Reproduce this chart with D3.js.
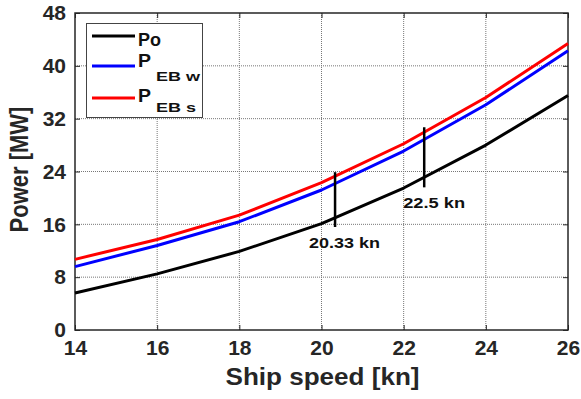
<!DOCTYPE html>
<html>
<head>
<meta charset="utf-8">
<script src="https://cdn.jsdelivr.net/npm/d3@7"></script>
<style>
  html, body { margin: 0; padding: 0; background: #fff; }
  svg { display: block; font-family: "Liberation Sans", Arial, sans-serif; font-weight: bold; }
</style>
</head>
<body>
<svg id="chart" width="581" height="399"></svg>
<script>
// Ship speed [kn]
const speeds = [14, 16, 18, 20, 22, 24, 26];
// Power [MW]
const po   = [5.6, 8.5, 11.9, 16.1, 21.5, 28.0, 35.5];
const pebW = [9.6, 12.8, 16.4, 21.2, 27.1, 34.1, 42.3];
const pebS = [10.7, 13.7, 17.4, 22.3, 28.2, 35.2, 43.4];

// Operating-point markers: speed and vertical extent
const markerSpeeds = [20.33, 22.5];
const markerLow    = [15.6, 21.6];
const markerHigh   = [23.9, 30.7];
const markerLabels = ["20.33 kn", "22.5 kn"];

const xTicks = [14, 16, 18, 20, 22, 24, 26];
const yTicks = [0, 8, 16, 24, 32, 40, 48];

const series = [
  { name: "Po",  values: po,   color: "#000000" },
  { name: "EB w", values: pebW, color: "#0000ff" },
  { name: "EB s", values: pebS, color: "#ff0000" }
];

const svg = d3.select("#chart");
const L = 75, R = 568, T = 13, B = 330;

const x = d3.scaleLinear().domain([14, 26]).range([L, R]);
const y = d3.scaleLinear().domain([0, 48]).range([B, T]);

// grid
const grid = svg.append("g");
grid.selectAll(".gx").data(xTicks.slice(1, -1)).join("line")
  .attr("x1", d => x(d)).attr("x2", d => x(d)).attr("y1", T).attr("y2", B)
  .attr("stroke", "#777").attr("stroke-width", 1).attr("stroke-dasharray", "1,1");
grid.selectAll(".gy").data(yTicks.slice(1, -1)).join("line")
  .attr("x1", L).attr("x2", R).attr("y1", d => y(d)).attr("y2", d => y(d))
  .attr("stroke", "#777").attr("stroke-width", 1).attr("stroke-dasharray", "1,1");

// axes (ticks pointing inward on all four sides)
const tickColor = "#262626";
const axB = svg.append("g").attr("transform", `translate(0,${B})`)
  .call(d3.axisBottom(x).tickValues(xTicks).tickSize(-5).tickPadding(10));
const axL = svg.append("g").attr("transform", `translate(${L},0)`)
  .call(d3.axisLeft(y).tickValues(yTicks).tickSize(-5).tickPadding(9));
const axT = svg.append("g").attr("transform", `translate(0,${T})`)
  .call(d3.axisTop(x).tickValues(xTicks).tickSize(-5).tickFormat(""));
const axR = svg.append("g").attr("transform", `translate(${R},0)`)
  .call(d3.axisRight(y).tickValues(yTicks).tickSize(-5).tickFormat(""));
[axB, axL, axT, axR].forEach(a => {
  a.select(".domain").remove();
  a.selectAll(".tick line").attr("stroke", tickColor).attr("stroke-width", 1);
  a.selectAll(".tick text").attr("fill", "#262626")
    .style("font-family", "'Liberation Sans', Arial, sans-serif")
    .style("font-weight", "bold").style("font-size", "21px");
});
axB.selectAll(".tick text").attr("dy", "0.71em");

// frame
svg.append("rect").attr("x", L).attr("y", T).attr("width", R - L).attr("height", B - T)
  .attr("fill", "none").attr("stroke", tickColor).attr("stroke-width", 1.5);

// curves
const line = d3.line().x((d, i) => x(speeds[i])).y(d => y(d));
svg.append("g").selectAll("path").data(series).join("path")
  .attr("d", d => line(d.values))
  .attr("fill", "none").attr("stroke", d => d.color).attr("stroke-width", 3)
  .attr("stroke-linejoin", "round");

// markers
svg.append("g").selectAll("line").data(markerSpeeds).join("line")
  .attr("x1", d => x(d)).attr("x2", d => x(d))
  .attr("y1", (d, i) => y(markerLow[i])).attr("y2", (d, i) => y(markerHigh[i]))
  .attr("stroke", "#000").attr("stroke-width", 2.5);

svg.append("text").attr("x", x(markerSpeeds[0]) - 26).attr("y", y(markerLow[0]) + 21)
  .attr("font-size", 15).attr("fill", "#111")
  .attr("textLength", 71).attr("lengthAdjust", "spacingAndGlyphs").text(markerLabels[0]);
svg.append("text").attr("x", x(markerSpeeds[1]) - 21).attr("y", y(markerLow[1]) + 21)
  .attr("font-size", 15).attr("fill", "#111")
  .attr("textLength", 62).attr("lengthAdjust", "spacingAndGlyphs").text(markerLabels[1]);

// legend
const lg = svg.append("g");
lg.append("rect").attr("x", 86.5).attr("y", 23.5).attr("width", 116).attr("height", 94)
  .attr("fill", "#fff").attr("stroke", "#444").attr("stroke-width", 1);
const rowY = [36, 66, 98];
lg.selectAll("line").data(series).join("line")
  .attr("x1", 92).attr("x2", 135)
  .attr("y1", (d, i) => rowY[i]).attr("y2", (d, i) => rowY[i])
  .attr("stroke", d => d.color).attr("stroke-width", 3);
lg.append("text").attr("x", 138).attr("y", 46).attr("font-size", 19).attr("fill", "#111")
  .attr("textLength", 23).attr("lengthAdjust", "spacingAndGlyphs").text(series[0].name);
const pBase = [null, 67, 101.5];
const subBase = [null, 81, 111.5];
const subLen = [null, 44, 40];
[1, 2].forEach(i => {
  lg.append("text").attr("x", 138).attr("y", pBase[i]).attr("font-size", 19).attr("fill", "#111")
    .attr("textLength", 13).attr("lengthAdjust", "spacingAndGlyphs").text("P");
  lg.append("text").attr("x", 156).attr("y", subBase[i]).attr("font-size", 13.5).attr("fill", "#111")
    .attr("textLength", subLen[i]).attr("lengthAdjust", "spacingAndGlyphs").text(series[i].name);
});

// axis titles
svg.append("text").attr("x", (L + R) / 2 + 1).attr("y", 385)
  .attr("text-anchor", "middle").attr("font-size", 23).attr("fill", "#262626")
  .attr("textLength", 194).attr("lengthAdjust", "spacingAndGlyphs")
  .text("Ship speed [kn]");
svg.append("text")
  .attr("transform", `translate(28,${(T + B) / 2 - 2}) scale(1.15,1) rotate(-90)`)
  .attr("text-anchor", "middle").attr("font-size", 22).attr("fill", "#262626")
  .text("Power [MW]");
</script>
</body>
</html>
